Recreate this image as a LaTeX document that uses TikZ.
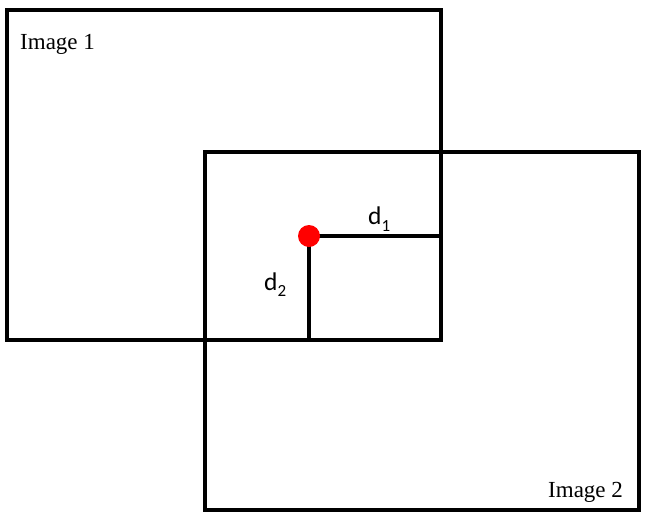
\documentclass[tikz,border=0pt]{standalone}
\usepackage{fontspec}
\setmainfont{Liberation Serif}
\newfontfamily\calib{Carlito}
\begin{document}
\begin{tikzpicture}[x=1pt,y=-1pt,
  frame/.style={line width=4.2pt},
  dist/.style={line width=4pt},
  lbl/.style={font=\fontsize{23}{23}\selectfont, anchor=base west, inner sep=0pt},
  dlbl/.style={font=\calib\fontsize{25.5}{25.5}\selectfont, anchor=base west, inner sep=0pt}]
\useasboundingbox (0,0) rectangle (645,515);
\draw[frame] (7,10) rectangle (441,340);
\draw[frame] (205,152) rectangle (639,510);
\coordinate (p) at (309,236);
\coordinate (e1) at (441,236);
\coordinate (e2) at (309,340);
\draw[dist] (p) -- (e1);
\draw[dist] (p) -- (e2);
\node[circle, fill=red, minimum size=22pt, inner sep=0pt] (dot) at (p) {};
\node[lbl] (i1) at (20,49) {Image 1};
\node[lbl] (i2) at (548,497) {Image 2};
\node[dlbl] (d1) at (368,224) {d\raisebox{-7pt}{\fontsize{17}{17}\selectfont 1}};
\node[dlbl] (d2) at (264,290) {d\raisebox{-6pt}{\fontsize{17}{17}\selectfont 2}};
\end{tikzpicture}
\end{document}
